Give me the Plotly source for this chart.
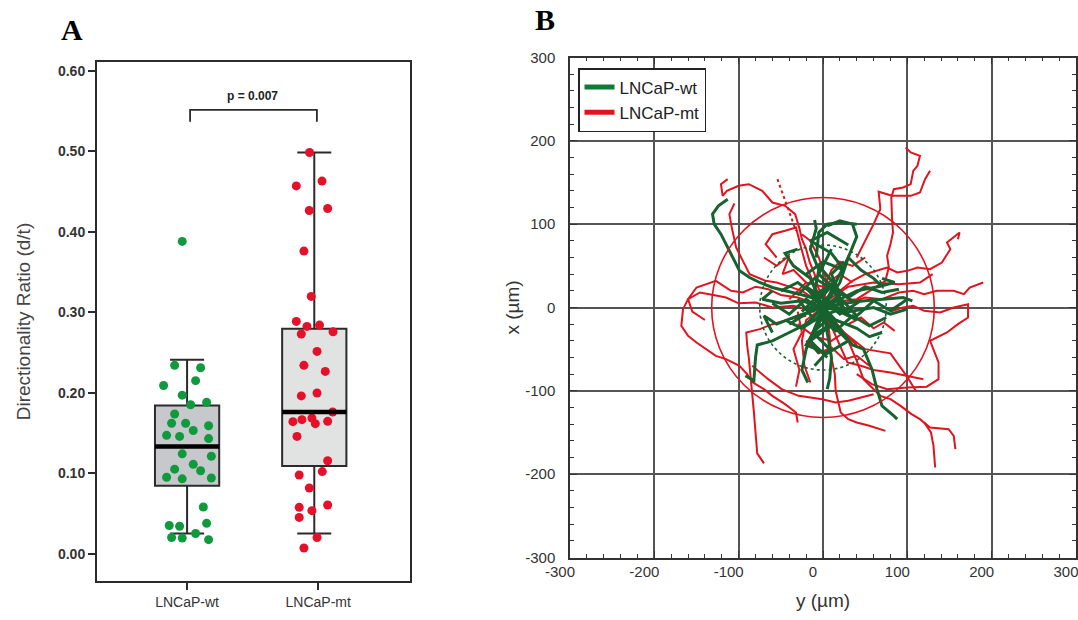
import plotly.graph_objects as go

# ---------------- Panel A data ----------------
groups = ["LNCaP-wt", "LNCaP-mt"]
box_pos = [0, 0.97]
q1 = [0.0845, 0.109]
median = [0.133, 0.176]
q3 = [0.184, 0.2795]
lower_whisker = [0.025, 0.025]
upper_whisker = [0.241, 0.4985]
ratio_ticks = [0.0, 0.1, 0.2, 0.3, 0.4, 0.5, 0.6]

wt_values = [0.388, 0.234, 0.231, 0.215, 0.209, 0.197, 0.185, 0.188, 0.1735, 0.162, 0.162,
             0.153, 0.159, 0.147, 0.1457, 0.143, 0.124, 0.111, 0.121, 0.105, 0.103, 0.095,
             0.093, 0.094, 0.058, 0.035, 0.034, 0.0377, 0.020, 0.0195, 0.025, 0.0174]
wt_jitter = [-0.037, -0.095, 0.103, 0.065, -0.179, -0.037, 0.027, 0.149, -0.095, -0.118, -0.011,
             0.047, 0.164, -0.156, -0.057, 0.164, -0.037, 0.047, 0.185, -0.095, 0.103, -0.156,
             -0.037, 0.185, 0.124, -0.136, -0.057, 0.149, -0.118, -0.037, 0.065, 0.164]
mt_values = [0.4985, 0.463, 0.457, 0.4265, 0.429, 0.376, 0.3197, 0.2886, 0.2824, 0.273, 0.284,
             0.2758, 0.2513, 0.234, 0.2265, 0.196, 0.1996, 0.176, 0.164, 0.1665, 0.1685, 0.1615,
             0.1644, 0.1457, 0.1155, 0.102, 0.0977, 0.0816, 0.0575, 0.0605, 0.0534, 0.045,
             0.020, 0.007]
mt_jitter = [-0.036, 0.059, -0.137, -0.038, 0.102, -0.079, -0.023, -0.137, -0.056, -0.099, 0.040,
             0.143, 0.021, -0.079, 0.084, -0.099, 0.021, 0.140, -0.163, -0.094, -0.018, 0.008,
             0.102, -0.132, 0.102, 0.061, -0.115, -0.038, -0.115, 0.102, -0.018, -0.115,
             0.021, -0.079]
p_text = "p = 0.007"
p_bracket_y = 0.5516
p_bracket_drop = 0.015

# ---------------- Panel B data (cell tracks, µm) ----------------
track_ticks = [-300, -200, -100, 0, 100, 200, 300]
track_ticktext = ["-300", "-200", "-100", "0", "100", "200", "300"]

red_tracks = [
    ([0, -6, -10, -16, -20, -25, -28, -33, -45, -60, -72, -88, -100, -114, -119, -121, -113],
     [10, 25, 40, 55, 70, 82, 95, 112, 122, 126, 140, 148, 146, 140, 134, 148, 154]),
    ([10, 25, 40, 58, 74, 78, 76, 80, 83, 82, 81, 84, 95, 104, 107, 112, 115, 104, 98],
     [0, 8, 10, 22, 32, 48, 62, 76, 90, 104, 132, 142, 144, 148, 164, 170, 182, 186, 192]),
    ([40, 50, 60, 68, 66, 82, 104, 115, 121, 127],
     [60, 80, 100, 118, 139, 134, 134, 138, 154, 164]),
    ([20, 35, 50, 62, 76, 88, 100, 112, 127, 141, 151, 147, 162, 160],
     [20, 32, 40, 44, 48, 42, 44, 48, 46, 54, 70, 78, 90, 82]),
    ([30, 50, 70, 90, 107, 120, 135, 155, 167, 174, 190], [5, 12, 10, 18, 20, 16, 20, 20, 16, 24, 30]),
    ([80, 95, 107, 120, 139, 155, 172, 172, 160, 147, 127, 132, 137, 137, 123, 100, 76, 58, 40],
     [-5, 0, 2, -4, -6, 0, 4, -12, -20, -30, -40, -52, -66, -86, -95, -96, -98, -92, -80]),
    ([30, 40, 48, 58, 68, 80, 92, 105, 115, 127, 149, 155, 157],
     [-40, -64, -86, -96, -106, -110, -118, -128, -134, -144, -146, -154, -170]),
    ([120, 128, 131, 133], [-138, -150, -166, -192]),
    ([-20, -40, -60, -75, -91, -90, -88, -86, -84, -82, -80, -78, -70],
     [-10, -14, -20, -26, -30, -45, -60, -80, -98, -125, -150, -175, -187]),
    ([-10, -35, -60, -80, -100, -115, -130, -146, -160, -166, -168, -160, -150, -139, -127, -115,
      -99, -90, -83, -70, -60, -45, -32, -30],
     [-5, 2, 0, 6, 5, 12, 15, 18, 10, -2, -22, -34, -42, -50, -58, -62, -70, -80, -90, -98, -106,
      -116, -126, -138]),
    ([-10, -30, -50, -65, -80, -95, -109, -127, -150, -160, -155, -140],
     [5, 12, 15, 22, 25, 18, 20, 32, 24, 10, -5, -15]),
    ([-10, -25, -40, -55, -68, -87, -95, -103, -108, -111, -105],
     [10, 20, 25, 30, 32, 40, 56, 72, 95, 112, 125]),
    ([-5, -12, -20, -26, -32, -45, -60, -68, -55], [15, 32, 50, 72, 96, 92, 88, 76, 60]),
    ([5, 8, 10, 14, 15, 21, 30, 40, 55, 74], [-10, -35, -60, -80, -100, -126, -134, -138, -142, -148]),
    ([0, -20, -25, -22, -15], [0, -15, -40, -70, -90]),
    ([0, 15, 29, 45, 60, 80, 100, 119], [0, -35, -66, -70, -75, -78, -82, -86]),
    ([0, 25, 50, 80, 99, 110], [0, -30, -50, -55, -82, -100]),
    ([-84, -65, -49, -29, -15, -1, 15, 30, 45, 60], [-70, -86, -98, -106, -108, -110, -114, -112, -108, -104]),
    ([0, 5, -5, -15, -25], [0, 30, 60, 80, 88]),
    ([0, 30, 60, 90, 115, 130], [5, 25, 30, 28, 30, 40]),
    ([-30, -10, 10, 25, 40], [-20, -35, -40, -30, -45]),
    ([-40, -20, 0, 20, 35], [10, 30, 25, 40, 30]),
    ([0, 10, 20, 35, 50], [20, 45, 55, 50, 60]),
    ([-20, -5, 10, 25, 40, 55], [-40, -55, -48, -62, -58, -70]),
    ([-30, -25, -35, -28, -32], [-5, -30, -50, -75, -95]),
    ([-70, -55, -40, -48, -35, -20], [60, 50, 62, 40, 45, 30]),
    ([10, 30, 45, 60, 72, 85], [-15, -20, -12, -25, -18, -28]),
]
red_dotted_track = ([-54, -32], [154, 92])

green_tracks = [
    ([0, -10, -5, -15, -8, -10], [0, 20, 45, 70, 95, 105]),
    ([0, 15, 30, 40, 35, 20, 5], [0, 30, 60, 85, 100, 104, 98]),
    ([0, 25, 50, 75, 95, 106], [0, 5, 8, 10, 12, 8]),
    ([0, 30, 60, 80, 100], [0, -5, 0, -8, -2]),
    ([0, -25, -50, -72, -60], [0, 8, 5, 10, 20]),
    ([0, -20, -40, -60, -78, -80, -82, -92], [0, -20, -30, -40, -45, -60, -88, -82]),
    ([0, 20, 35, 48, 58, 64, 70, 84, 88], [0, -25, -45, -50, -74, -98, -118, -130, -134]),
    ([0, -10, -20, -25, -18], [0, -25, -50, -75, -90]),
    ([0, 5, 10, 8, 5], [0, -30, -60, -85, -98]),
    ([0, -14, -28, -45, -60, -75, -87, -99, -107, -115, -121, -129, -131, -124, -113],
     [5, 12, 16, 20, 24, 30, 36, 44, 60, 75, 88, 100, 112, 122, 130]),
    ([0, 20, 30, 45, 60, 70], [0, 30, 60, 45, 35, 25]),
    ([0, -30, -55, -70, -60], [0, -10, -20, -10, -30]),
    ([0, 40, 65, 85, 70], [0, 20, 25, 30, 35]),
    ([0, -15, -35, -45, -30], [0, 35, 50, 65, 70]),
    ([0, 15, 40, 55, 70], [0, -15, -25, -35, -30]),
    ([0, -5, -15, -5], [0, -20, -40, -55]),
    ([0, 20, 10, 25], [0, 15, 40, 55]),
    ([-8, -5, 5, 20, 40], [60, 90, 100, 102, 100]),
    ([-30, -10, 15, 30, 10, -20], [10, -15, 10, -10, 25, -5]),
    ([-40, 0, 40, -20, 20, -10], [-20, 5, -15, 25, -30, 15]),
    ([-60, -40, -20, 0, 20, 40, 60, 80, 100], [5, -8, 10, -5, 12, -10, 8, -4, 10]),
    ([-50, -30, -10, 10, 30, 50, 70, 90], [20, 30, 15, 28, 12, 25, 18, 22]),
    ([-45, -25, -5, 15, 35, 55, 75], [-15, -25, -12, -28, -10, -22, -12]),
    ([-10, 8, -12, 10, -8, 12, -5], [-70, -50, -30, -10, 10, 30, 50]),
    ([5, -15, 12, -10, 15, -5, 10], [-60, -40, -20, 0, 20, 40, 70]),
    ([-20, 0, 25, 10, -15, 5, 30], [40, 55, 45, 65, 80, 90, 75]),
    ([-25, -5, 20, 40, 15, -10, -30], [-5, 15, -8, 5, 20, 35, 15]),
    ([-15, 10, 30, 5, -20, 0, 25], [-35, -20, -40, -55, -45, -10, 0]),
]
red_circle_radius = 132
green_circle_radius = 75

# ---------------- styles ----------------
GREEN_PT = "#0f9a3e"
RED_PT = "#e5102a"
GREEN_TR = "#17622f"
RED_TR = "#e0141e"
FONT = "Arial, Liberation Sans, sans-serif"
SERIF = "Times New Roman, Liberation Serif, serif"

fig = go.Figure()

# Panel A: boxes
box_fills = ["#c7c8cb", "#e1e2e2"]
for i in range(2):
    fig.add_trace(go.Box(
        x=[box_pos[i]], q1=[q1[i]], median=[median[i]], q3=[q3[i]],
        lowerfence=[lower_whisker[i]], upperfence=[upper_whisker[i]],
        width=0.49, whiskerwidth=0.53, fillcolor=box_fills[i],
        line=dict(color="#2b2b2b", width=2), boxpoints=False,
        hoverinfo="skip", showlegend=False, xaxis="x", yaxis="y"))

fig.add_trace(go.Scatter(
    x=[box_pos[0] + j for j in wt_jitter], y=wt_values, mode="markers",
    marker=dict(color=GREEN_PT, size=9), showlegend=False, xaxis="x", yaxis="y"))
fig.add_trace(go.Scatter(
    x=[box_pos[1] + j for j in mt_jitter], y=mt_values, mode="markers",
    marker=dict(color=RED_PT, size=9), showlegend=False, xaxis="x", yaxis="y"))

# Panel B: tracks
for tx, ty in red_tracks:
    fig.add_trace(go.Scatter(x=tx, y=ty, mode="lines", line=dict(color=RED_TR, width=2),
                             showlegend=False, hoverinfo="skip", xaxis="x2", yaxis="y2"))
fig.add_trace(go.Scatter(x=red_dotted_track[0], y=red_dotted_track[1], mode="lines",
                         line=dict(color=RED_TR, width=2, dash="dot"),
                         showlegend=False, hoverinfo="skip", xaxis="x2", yaxis="y2"))
for tx, ty in green_tracks:
    fig.add_trace(go.Scatter(x=tx, y=ty, mode="lines", line=dict(color=GREEN_TR, width=3),
                             showlegend=False, hoverinfo="skip", xaxis="x2", yaxis="y2"))

# legend entries
fig.add_trace(go.Scatter(x=[None], y=[None], mode="lines", name="LNCaP-wt",
                         line=dict(color="#137a35", width=5), xaxis="x2", yaxis="y2"))
fig.add_trace(go.Scatter(x=[None], y=[None], mode="lines", name="LNCaP-mt",
                         line=dict(color=RED_TR, width=5), xaxis="x2", yaxis="y2"))

shapes = []
for i in range(2):
    shapes.append(dict(type="line", xref="x", yref="y",
                       x0=box_pos[i] - 0.245, x1=box_pos[i] + 0.245,
                       y0=median[i], y1=median[i], line=dict(color="black", width=4.5)))
shapes.append(dict(type="path", xref="x", yref="y",
                   path=f"M 0.023 {p_bracket_y - p_bracket_drop} L 0.023 {p_bracket_y} "
                        f"L 0.99 {p_bracket_y} L 0.99 {p_bracket_y - p_bracket_drop}",
                   line=dict(color="#2b2b2b", width=1.8)))
shapes.append(dict(type="circle", xref="x2", yref="y2",
                   x0=-red_circle_radius, x1=red_circle_radius,
                   y0=-red_circle_radius, y1=red_circle_radius,
                   line=dict(color=RED_TR, width=1.6)))
shapes.append(dict(type="circle", xref="x2", yref="y2",
                   x0=-green_circle_radius, x1=green_circle_radius,
                   y0=-green_circle_radius, y1=green_circle_radius,
                   line=dict(color=GREEN_TR, width=1.6, dash="dot")))

annotations = [
    dict(text="<b>A</b>", x=72 / 1078, y=1 - 30 / 620, xref="paper", yref="paper",
         xanchor="center", yanchor="middle",
         showarrow=False, font=dict(family=SERIF, size=30, color="black")),
    dict(text="<b>B</b>", x=545 / 1078, y=1 - 20 / 620, xref="paper", yref="paper",
         xanchor="center", yanchor="middle",
         showarrow=False, font=dict(family=SERIF, size=30, color="black")),
    dict(text=p_text, x=0.5, y=0.569, xref="x", yref="y", showarrow=False,
         font=dict(family=FONT, size=12, color="#222", weight="bold")),
]

fig.update_layout(
    width=1078, height=620, margin=dict(l=0, r=0, t=0, b=0),
    paper_bgcolor="white", plot_bgcolor="white",
    font=dict(family=FONT),
    shapes=shapes, annotations=annotations,
    xaxis=dict(domain=[97 / 1078, 410 / 1078], range=[-0.687, 1.70], automargin=False,
               tickvals=[0, 1], ticktext=groups, ticks="outside", ticklen=7, tickwidth=2,
               tickcolor="#2b2b2b", showline=True, linecolor="#2b2b2b", linewidth=2,
               mirror=True, showgrid=False, zeroline=False,
               tickfont=dict(family=FONT, size=14, color="#333"), fixedrange=True),
    yaxis=dict(domain=[1 - 581 / 620, 1 - 62 / 620], range=[-0.034, 0.611], automargin=False,
               tickvals=ratio_ticks, tickformat=".2f", ticks="outside", ticklen=7, tickwidth=2,
               tickcolor="#2b2b2b", showline=True, linecolor="#2b2b2b", linewidth=2,
               mirror=True, showgrid=False, zeroline=False,
               tickfont=dict(family=FONT, size=14, color="#333", weight="bold"),
               title=dict(text="Directionality Ratio (d/t)", standoff=22,
                          font=dict(family=FONT, size=19, color="#444"))),
    xaxis2=dict(domain=[570 / 1078, 1076 / 1078], range=[-300, 300], anchor="y2", automargin=False,
                tickvals=track_ticks, ticktext=track_ticktext, ticks="inside", ticklen=7,
                tickcolor="#333",
                minor=dict(dtick=20, ticks="inside", ticklen=4, tickcolor="#333"),
                showline=True, linecolor="#333", linewidth=1.5, mirror="allticks",
                showgrid=True, gridcolor="#555", gridwidth=1.5, zeroline=False,
                ticklabelshift=-10, ticklabeloverflow="allow",
                tickfont=dict(family=FONT, size=15, color="#333"),
                title=dict(text="y (µm)", standoff=14, font=dict(family=FONT, size=19, color="#333"))),
    yaxis2=dict(domain=[1 - 557.5 / 620, 1 - 57.5 / 620], range=[-300, 300], anchor="x2",
                automargin=False,
                tickvals=track_ticks, ticktext=track_ticktext, ticks="inside", ticklen=7,
                tickcolor="#333",
                minor=dict(dtick=20, ticks="inside", ticklen=4, tickcolor="#333"),
                showline=True, linecolor="#333", linewidth=1.5, mirror="allticks",
                showgrid=True, gridcolor="#555", gridwidth=1.5, zeroline=False,
                ticklabelstandoff=10, ticklabeloverflow="allow",
                tickfont=dict(family=FONT, size=15, color="#333"),
                title=dict(text="x (µm)", standoff=1, font=dict(family=FONT, size=19, color="#333"))),
    legend=dict(x=578 / 1078, y=1 - 68 / 620, xanchor="left", yanchor="top",
                bgcolor="white", bordercolor="#222", borderwidth=1.5,
                font=dict(family=FONT, size=17, color="#222"), tracegroupgap=0),
)

fig.write_html("out.html", config={"displayModeBar": False},
               post_script="document.body.style.margin='0px';")
